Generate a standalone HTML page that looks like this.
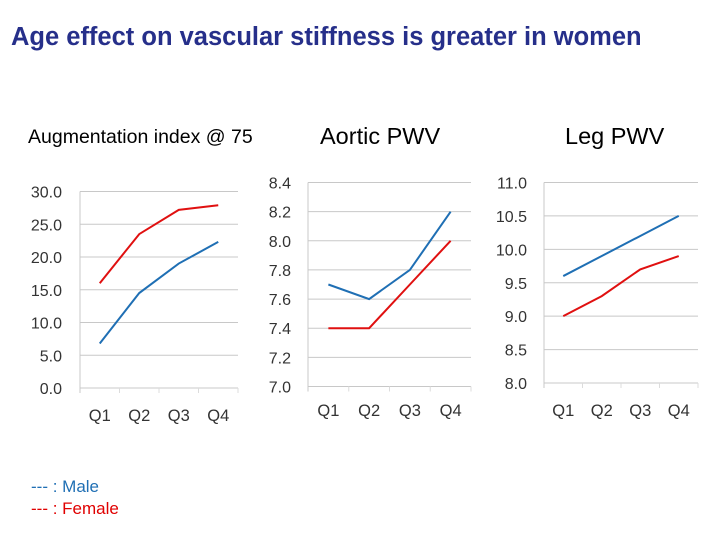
<!DOCTYPE html>
<html><head><meta charset="utf-8"><style>
body{margin:0;width:720px;height:540px;background:#fff;font-family:"Liberation Sans",Arial,sans-serif;position:relative;overflow:hidden}
.t{position:absolute;white-space:nowrap}
</style></head><body>
<div class="t" style="left:11px;top:23px;font-size:25.5px;font-weight:bold;color:#262f8a">Age effect on vascular stiffness is greater in women</div>
<div class="t" style="left:28px;top:126px;font-size:19.5px;color:#000">Augmentation index @ 75</div>
<div class="t" style="left:320px;top:123px;font-size:23.5px;color:#000">Aortic PWV</div>
<div class="t" style="left:565px;top:123px;font-size:23.5px;color:#000">Leg PWV</div>
<div class="t" style="left:31px;top:477px;font-size:17px;color:#1f6fb4">--- : Male</div>
<div class="t" style="left:31px;top:499px;font-size:17px;color:#e00000">--- : Female</div>
<svg id="svg" width="720" height="540" style="position:absolute;left:0;top:0"></svg>
<script>
const categories=["Q1","Q2","Q3","Q4"];
const aixMale=[6.8,14.5,19.0,22.3];
const aixFemale=[16.0,23.5,27.2,27.9];
const aixTicks=["0.0","5.0","10.0","15.0","20.0","25.0","30.0"];
const aorticMale=[7.7,7.6,7.8,8.2];
const aorticFemale=[7.4,7.4,7.7,8.0];
const aorticTicks=["7.0","7.2","7.4","7.6","7.8","8.0","8.2","8.4"];
const legMale=[9.6,9.9,10.2,10.5];
const legFemale=[9.0,9.3,9.7,9.9];
const legTicks=["8.0","8.5","9.0","9.5","10.0","10.5","11.0"];

const svg=document.getElementById('svg');
const NS='http://www.w3.org/2000/svg';
function mk(tag,attrs){const e=document.createElementNS(NS,tag);for(const k in attrs)e.setAttribute(k,attrs[k]);svg.appendChild(e);return e;}
function chart(name,x0,x1,yTop,yBot,ticks,male,female,qy,labelRight){
  const vmin=parseFloat(ticks[0]),vmax=parseFloat(ticks[ticks.length-1]);
  const ys=v=>yBot-(v-vmin)/(vmax-vmin)*(yBot-yTop);
  const bw=(x1-x0)/categories.length;
  const xs=i=>x0+bw*(i+0.5);
  ticks.forEach(t=>{
    const y=ys(parseFloat(t));
    const g=mk('line',{x1:x0,x2:x1,y1:y,y2:y,stroke:'#c8c8c8','stroke-width':1});
    
    
    const l=mk('text',{x:labelRight,y:y+6,'text-anchor':'end','font-size':16,fill:'#333','font-family':'Liberation Sans, sans-serif'});
    l.textContent=t;
    
    
  });
  const ax=mk('line',{x1:x0,x2:x0,y1:yTop,y2:yBot+5,stroke:'#c8c8c8'});
  
  
  for(let i=1;i<=categories.length;i++){
    const tk=mk('line',{x1:x0+bw*i,x2:x0+bw*i,y1:yBot,y2:yBot+5,stroke:'#dcdcdc'});
    
    
  }
  categories.forEach((c,i)=>{
    const l=mk('text',{x:xs(i),y:qy,'text-anchor':'middle','font-size':16.5,fill:'#333','font-family':'Liberation Sans, sans-serif'});
    l.textContent=c;
    
    
  });
  [[male,'#1f6fb4','male'],[female,'#e01010','female']].forEach(([d,col,s])=>{
    const p=mk('polyline',{points:d.map((v,i)=>xs(i)+','+ys(v)).join(' '),fill:'none',stroke:col,'stroke-width':2});
    
    
  });
}
chart('aix',80,238,191.5,388,aixTicks,aixMale,aixFemale,421,62);
chart('aortic',308,471,182.5,386.5,aorticTicks,aorticMale,aorticFemale,416,291);
chart('leg',544,698,182.5,383,legTicks,legMale,legFemale,416,527);
</script>
</body></html>
